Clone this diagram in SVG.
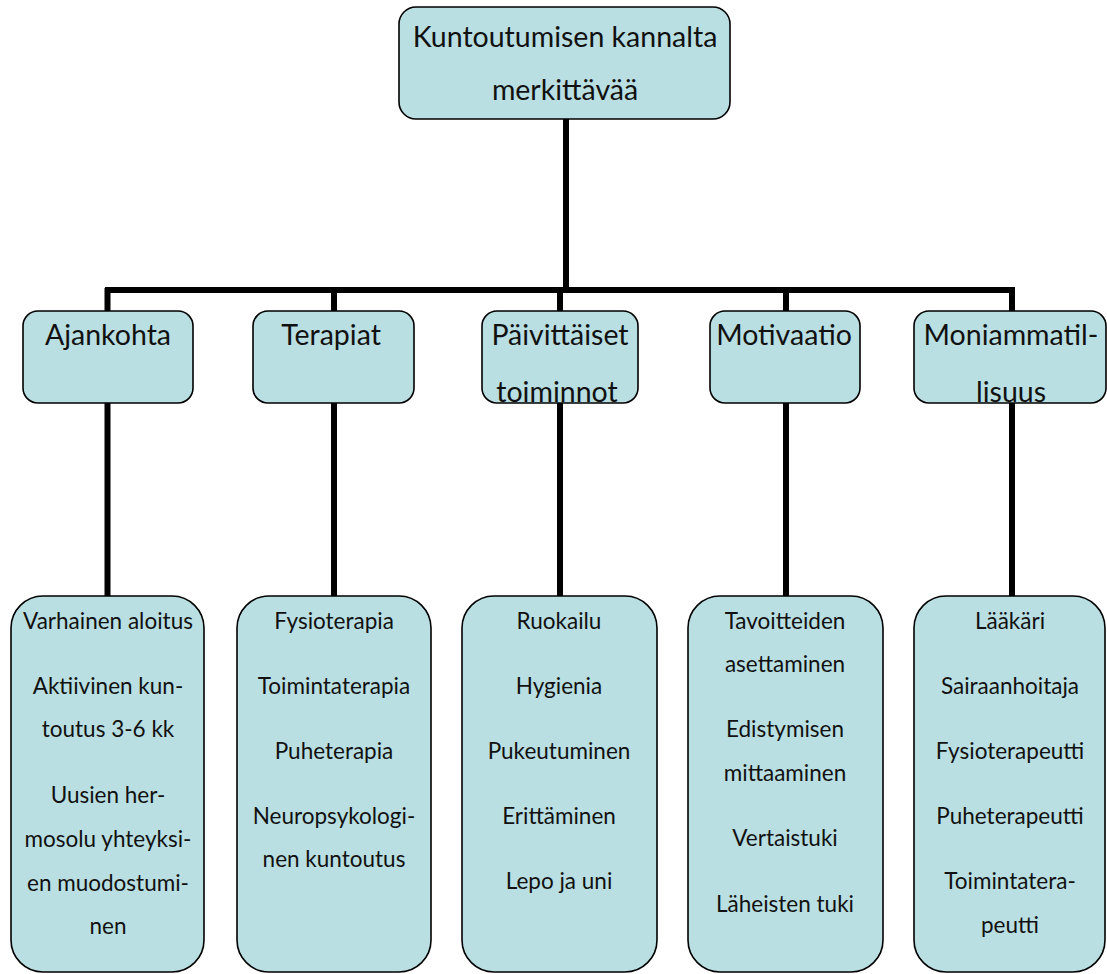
<svg xmlns="http://www.w3.org/2000/svg" width="1107" height="974" viewBox="0 0 1107 974">
  <style>
    .box { fill: #B9DFE2; stroke: #000; stroke-width: 1.6; }
    .conn { stroke: #000; stroke-width: 6; fill: none; stroke-linecap: butt; }
    .t1 { font-family: Lato, "Liberation Sans", sans-serif; font-size: 28.5px; fill: #111; text-anchor: middle; }
    .t2 { font-family: Lato, "Liberation Sans", sans-serif; font-size: 28.5px; fill: #111; text-anchor: middle; }
    .t3 { font-family: Lato, "Liberation Sans", sans-serif; font-size: 22.5px; fill: #111; text-anchor: middle; }
  </style>
  <defs>
    <clipPath id="c1"><rect x="23" y="311" width="170" height="91"/></clipPath>
    <clipPath id="c2"><rect x="253" y="311" width="161" height="91"/></clipPath>
    <clipPath id="c3"><rect x="482" y="311" width="156" height="91"/></clipPath>
    <clipPath id="c4"><rect x="710" y="311" width="150" height="91"/></clipPath>
    <clipPath id="c5"><rect x="914" y="311" width="192" height="91"/></clipPath>
  </defs>

  <g id="connectors">
    <line class="conn" x1="566" y1="119" x2="566" y2="293"/>
    <line class="conn" x1="105" y1="290" x2="1015" y2="290"/>
    <line class="conn" x1="107.5" y1="288" x2="107.5" y2="311"/>
    <line class="conn" x1="334" y1="288" x2="334" y2="311"/>
    <line class="conn" x1="560" y1="288" x2="560" y2="311"/>
    <line class="conn" x1="786" y1="288" x2="786" y2="311"/>
    <line class="conn" x1="1012" y1="288" x2="1012" y2="311"/>
    <line class="conn" x1="107.5" y1="403" x2="107.5" y2="596"/>
    <line class="conn" x1="334" y1="403" x2="334" y2="596"/>
    <line class="conn" x1="560" y1="403" x2="560" y2="596"/>
    <line class="conn" x1="786" y1="403" x2="786" y2="596"/>
    <line class="conn" x1="1012" y1="403" x2="1012" y2="596"/>
  </g>

  <g id="root">
    <rect class="box" x="399" y="7" width="331" height="112" rx="17"/>
    <text class="t1" x="565" y="47">Kuntoutumisen kannalta</text>
    <text class="t1" x="565" y="100">merkittävää</text>
  </g>

  <g id="ajankohta">
    <rect class="box" x="23" y="311" width="170" height="92" rx="15"/>
    <text class="t2" x="108" y="345" clip-path="url(#c1)">Ajankohta</text>
  </g>
  <g id="terapiat">
    <rect class="box" x="253" y="311" width="161" height="92" rx="15"/>
    <text class="t2" x="331" y="345" clip-path="url(#c2)">Terapiat</text>
  </g>
  <g id="paivittaiset">
    <rect class="box" x="482" y="311" width="156" height="92" rx="15"/>
    <text class="t2" x="560" y="345" clip-path="url(#c3)">Päivittäiset</text>
    <text class="t2" x="557" y="402" clip-path="url(#c3)">toiminnot</text>
  </g>
  <g id="motivaatio">
    <rect class="box" x="710" y="311" width="150" height="92" rx="15"/>
    <text class="t2" x="784" y="345" clip-path="url(#c4)">Motivaatio</text>
  </g>
  <g id="moniammatillisuus">
    <rect class="box" x="914" y="311" width="192" height="92" rx="15"/>
    <text class="t2" x="1011" y="345" clip-path="url(#c5)">Moniammatil-</text>
    <text class="t2" x="1011" y="402" clip-path="url(#c5)">lisuus</text>
  </g>

  <g id="ajankohta-items">
    <rect class="box" x="11" y="596" width="193" height="376" rx="32"/>
    <text class="t3" x="108" y="629">Varhainen aloitus</text>
    <text class="t3" x="108" y="694">Aktiivinen kun-</text>
    <text class="t3" x="108" y="737">toutus 3-6 kk</text>
    <text class="t3" x="108" y="803">Uusien her-</text>
    <text class="t3" x="108" y="847">mosolu yhteyksi-</text>
    <text class="t3" x="108" y="891">en muodostumi-</text>
    <text class="t3" x="108" y="934">nen</text>
  </g>
  <g id="terapiat-items">
    <rect class="box" x="237" y="596" width="194" height="376" rx="32"/>
    <text class="t3" x="334" y="629">Fysioterapia</text>
    <text class="t3" x="334" y="694">Toimintaterapia</text>
    <text class="t3" x="334" y="759">Puheterapia</text>
    <text class="t3" x="334" y="824">Neuropsykologi-</text>
    <text class="t3" x="334" y="867">nen kuntoutus</text>
  </g>
  <g id="paivittaiset-items">
    <rect class="box" x="462" y="596" width="195" height="376" rx="32"/>
    <text class="t3" x="559" y="629">Ruokailu</text>
    <text class="t3" x="559" y="694">Hygienia</text>
    <text class="t3" x="559" y="759">Pukeutuminen</text>
    <text class="t3" x="559" y="824">Erittäminen</text>
    <text class="t3" x="559" y="889">Lepo ja uni</text>
  </g>
  <g id="motivaatio-items">
    <rect class="box" x="688" y="596" width="195" height="376" rx="32"/>
    <text class="t3" x="785" y="629">Tavoitteiden</text>
    <text class="t3" x="785" y="672">asettaminen</text>
    <text class="t3" x="785" y="737">Edistymisen</text>
    <text class="t3" x="785" y="781">mittaaminen</text>
    <text class="t3" x="785" y="846">Vertaistuki</text>
    <text class="t3" x="785" y="912">Läheisten tuki</text>
  </g>
  <g id="moniammatillisuus-items">
    <rect class="box" x="914" y="596" width="191" height="376" rx="32"/>
    <text class="t3" x="1010" y="629">Lääkäri</text>
    <text class="t3" x="1010" y="694">Sairaanhoitaja</text>
    <text class="t3" x="1010" y="759">Fysioterapeutti</text>
    <text class="t3" x="1010" y="824">Puheterapeutti</text>
    <text class="t3" x="1010" y="889">Toimintatera-</text>
    <text class="t3" x="1010" y="933">peutti</text>
  </g>
</svg>
